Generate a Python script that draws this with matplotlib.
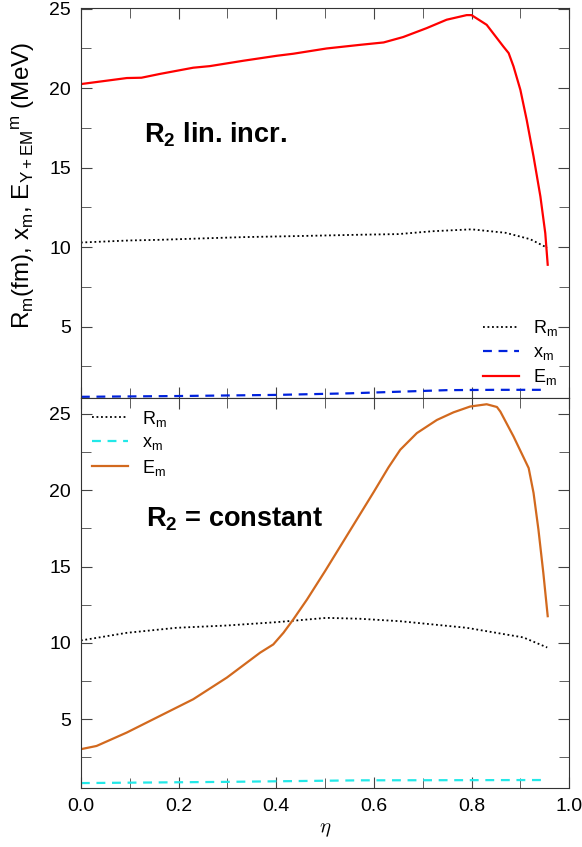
import numpy as np
import matplotlib
matplotlib.use("Agg")
import matplotlib.pyplot as plt
from matplotlib.ticker import MultipleLocator

plt.rcParams['font.family'] = ['Liberation Sans', 'DejaVu Sans']
plt.rcParams['mathtext.fontset'] = 'custom'
plt.rcParams['mathtext.rm'] = 'Liberation Sans'
plt.rcParams['mathtext.it'] = 'Liberation Sans:italic'
plt.rcParams['mathtext.bf'] = 'Liberation Sans:bold'

# --- top panel: R2 linearly increasing ---
eta_e1 = [0.0, 0.094, 0.124, 0.162, 0.23, 0.264, 0.333, 0.401, 0.435, 0.503,
          0.572, 0.62, 0.66, 0.708, 0.749, 0.79, 0.80, 0.831, 0.865, 0.876,
          0.886, 0.9, 0.913, 0.927, 0.941, 0.951, 0.956]
em_1 = [20.26, 20.64, 20.66, 20.9, 21.29, 21.39, 21.73, 22.04, 22.17, 22.5,
        22.73, 22.88, 23.22, 23.78, 24.31, 24.6, 24.6, 23.99, 22.63, 22.21,
        21.37, 19.9, 18.0, 15.7, 13.19, 10.88, 8.89]

eta_r1 = [0.0, 0.1, 0.162, 0.25, 0.333, 0.45, 0.572, 0.65, 0.72, 0.8, 0.87, 0.92, 0.955]
rm_1 = [10.29, 10.42, 10.46, 10.55, 10.63, 10.7, 10.78, 10.82, 11.0, 11.12, 10.9, 10.5, 9.96]

eta_x1 = [0.0, 0.2, 0.4, 0.55, 0.65, 0.75, 0.85, 0.955]
xm_1 = [0.58, 0.63, 0.7, 0.8, 0.9, 1.0, 1.02, 1.02]

# --- bottom panel: R2 constant ---
eta_e2 = [0.0, 0.032, 0.094, 0.162, 0.23, 0.299, 0.367, 0.394, 0.415, 0.435,
          0.463, 0.5, 0.55, 0.6, 0.63, 0.654, 0.688, 0.729, 0.763, 0.797,
          0.831, 0.852, 0.859, 0.886, 0.917, 0.927, 0.937, 0.947, 0.956]
em_2 = [3.04, 3.25, 4.13, 5.22, 6.31, 7.73, 9.36, 9.9, 10.67, 11.54,
        12.84, 14.7, 17.3, 19.9, 21.5, 22.65, 23.74, 24.6, 25.1, 25.48,
        25.63, 25.45, 25.15, 23.52, 21.45, 19.82, 17.42, 14.59, 11.75]

eta_r2 = [0.0, 0.094, 0.196, 0.299, 0.401, 0.503, 0.572, 0.654, 0.79, 0.906, 0.955]
rm_2 = [10.16, 10.66, 10.99, 11.14, 11.36, 11.64, 11.58, 11.42, 10.99, 10.36, 9.7]

eta_x2 = [0.0, 0.3, 0.572, 0.955]
xm_2 = [0.82, 0.9, 1.0, 1.02]


def style_axis(ax, ylim):
    ax.set_xlim(0, 1)
    ax.set_ylim(*ylim)
    ax.xaxis.set_major_locator(MultipleLocator(0.2))
    ax.xaxis.set_minor_locator(MultipleLocator(0.1))
    ax.yaxis.set_major_locator(MultipleLocator(5))
    ax.yaxis.set_minor_locator(MultipleLocator(2.5))
    ax.tick_params(which='both', direction='in', top=True, right=True,
                   labelsize=14, pad=7, color='#444444')
    ax.tick_params(which='major', length=8)
    ax.tick_params(which='minor', length=7)
    for sp in ax.spines.values():
        sp.set_color('#333333')


fig = plt.figure(figsize=(5.82, 8.47), dpi=100)
ax1 = fig.add_axes([0.139, 0.530, 0.839, 0.4606])
ax2 = fig.add_axes([0.139, 0.0697, 0.839, 0.4606])

ax1.plot(eta_r1, rm_1, color='black', ls=(0, (1, 1.5)), lw=1.3, label=r'R$_\mathrm{m}$')
ax1.plot(eta_x1, xm_1, color='#0022dd', ls=(0, (4, 3)), lw=1.6, label=r'x$_\mathrm{m}$')
ax1.plot(eta_e1, em_1, color='#ff0000', lw=1.6, label=r'E$_\mathrm{m}$')
style_axis(ax1, (0.5, 25.05))
ax1.tick_params(labelbottom=False)
ax1.set_ylabel(r'R$_\mathrm{m}$(fm), x$_\mathrm{m}$, E$_\mathrm{Y+EM}{}^\mathrm{m}$ (MeV)',
               fontsize=17.5)
ax1.yaxis.set_label_coords(-0.09, 0.545)
ax1.text(0.275, 17.1, r'R$_\mathbf{2}$ lin. incr.', fontsize=19.5, fontweight='bold',
         ha='center', va='center')
ax1.legend(loc='lower right', frameon=False, fontsize=13, handlelength=2.0,
           labelspacing=0.3, borderaxespad=0.2)

ax2.plot(eta_r2, rm_2, color='black', ls=(0, (1, 1.5)), lw=1.3, label=r'R$_\mathrm{m}$')
ax2.plot(eta_x2, xm_2, color='#22e8e8', ls=(0, (4, 3)), lw=1.6, label=r'x$_\mathrm{m}$')
ax2.plot(eta_e2, em_2, color='#d2691e', lw=1.6, label=r'E$_\mathrm{m}$')
style_axis(ax2, (0.5, 26.05))
ax2.set_xlabel(r'$\eta$', fontsize=15, math_fontfamily='cm', labelpad=4)
ax2.text(0.315, 18.1, r'R$_\mathbf{2}$ = constant', fontsize=19.5, fontweight='bold',
         ha='center', va='center')
ax2.legend(loc='upper left', frameon=False, fontsize=13, handlelength=2.0,
           labelspacing=0.3, borderaxespad=0.2)

fig.savefig('out.png', dpi=100)
